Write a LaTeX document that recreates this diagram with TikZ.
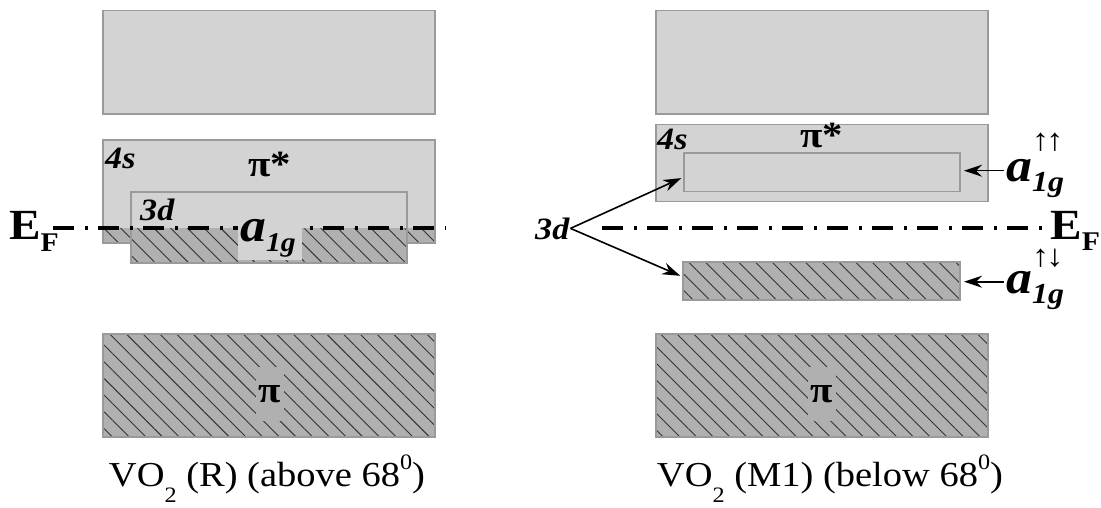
\documentclass[tikz,border=0pt]{standalone}
\usepackage{fontspec}
\setmainfont{Liberation Serif}[FakeStretch=1.1]
\usetikzlibrary{patterns.meta,arrows.meta}
\definecolor{lightfill}{HTML}{D3D3D3}
\definecolor{darkfill}{HTML}{B0B0B0}
\definecolor{edgegray}{HTML}{9A9A9A}
\tikzset{
  rect/.style={anchor=north west, inner sep=0pt, outer sep=0pt},
  lightbox/.style={fill=lightfill, draw=edgegray, line width=1.2pt},
  hatchfill/.style={preaction={fill=darkfill}, pattern={Lines[angle=-45,distance=11.8pt,line width=0.9pt]}, pattern color=black!80},
  hatchbox/.style={hatchfill, draw=edgegray, line width=1.2pt},
  border/.style={draw=edgegray, line width=1.2pt},
  fermi/.style={line width=3.3pt, dash pattern=on 21pt off 11pt on 3pt off 10pt},
  arr/.style={line width=1.6pt, -{Stealth[length=18pt,width=12pt]}},
  orb/.style={inner sep=0pt, font=\fontsize{31}{36}\selectfont\bfseries\itshape},
  alab/.style={inner sep=0pt, font=\fontsize{47}{50}\selectfont\bfseries\itshape},
  eflab/.style={inner sep=0pt, font=\fontsize{43}{46}\selectfont\bfseries},
  pilab/.style={inner sep=0pt, font=\fontsize{37}{40}\selectfont\bfseries},
  spin/.style={inner sep=0pt, font=\fontsize{31}{32}\selectfont},
  caption/.style={inner sep=0pt, font=\fontsize{35}{40}\selectfont},
}
\newcommand{\subtxt}[3]{\raisebox{#1}{\fontsize{#2}{#2}\selectfont #3}}
\begin{document}
\begin{tikzpicture}[x=1pt,y=-1pt]
\useasboundingbox (0,0) rectangle (1101,508);
% ---------------- left column: VO2 (R)
\node[rect, lightbox, minimum width=332pt, minimum height=103.3pt] (topL) at (103,10.7) {};
% middle band (4s, pi*)
\fill[lightfill] (103,140) rectangle (435,228);
\path[hatchfill] (103,228) rectangle (435,243);
\draw[border] (103,140) rectangle (435,243);
% 3d band
\fill[lightfill] (131,192) rectangle (407,228);
\path[hatchfill] (131,228) rectangle (407,263);
\draw[border] (131,192) rectangle (407,263);
% Fermi level
\coordinate (efLa) at (53,228);
\coordinate (efLb) at (446,228);
\draw[fermi] (efLa) -- (efLb);
\fill[lightfill] (238,225.5) rectangle (302,260);
% labels
\node[orb, anchor=base west] (s4L) at (105,169) {4s};
\node[pilab, anchor=base] (pisL) at (270,177) {π*};
\node[orb, anchor=base west] (d3L) at (140,220) {3d};
\node[alab, anchor=base west] (a1gL) at (240,241.7) {a\subtxt{-10pt}{27}{1g}};
\node[eflab, anchor=base west] (efLlab) at (9,240) {E\subtxt{-12pt}{27}{F}};
% bottom band (pi)
\node[rect, hatchbox, minimum width=332pt, minimum height=103pt] (botL) at (103,334) {};
\node[pilab, fill=darkfill, minimum width=28pt, minimum height=54pt] (piL) at (270,394) {π};
\node[caption, anchor=base] (capL) at (267,486) {VO\subtxt{-16pt}{22}{2} (R) (above 68\subtxt{17pt}{22}{0})};
% ---------------- right column: VO2 (M1)
\node[rect, lightbox, minimum width=332pt, minimum height=103.3pt] (topR) at (656,10.7) {};
\node[rect, lightbox, minimum width=332pt, minimum height=77pt] (midR) at (656,124.7) {};
\node[rect, lightbox, minimum width=276pt, minimum height=38.7pt] (innerR) at (684,153) {};
\node[rect, hatchbox, minimum width=277pt, minimum height=38pt] (lowR) at (683,262) {};
\coordinate (efRa) at (602,228);
\coordinate (efRb) at (1043,228);
\draw[fermi] (efRa) -- (efRb);
\node[orb, anchor=base west] (s4R) at (657,150) {4s};
\node[pilab, anchor=base] (pisR) at (822,148) {π*};
\node[orb, anchor=base west] (d3R) at (535,239) {3d};
\node[alab, anchor=base west] (a1gU) at (1006,181.7) {a\subtxt{-10pt}{29}{1g}};
\node[spin, anchor=base west] (spinU) at (1032,151) {↑\kern-3pt↑};
\node[alab, anchor=base west] (a1gD) at (1006,293) {a\subtxt{-10pt}{29}{1g}};
\node[spin, anchor=base west] (spinD) at (1032,266) {↑\kern-3pt↓};
\node[eflab, anchor=base west] (efRlab) at (1050,239) {E\subtxt{-12pt}{27}{F}};
\coordinate (tailU) at (1004,170.7);
\coordinate (tailD) at (1004,281.7);
\draw[arr, shorten >=4pt] (tailU) -- (innerR.east |- tailU);
\draw[arr, shorten >=4pt] (tailD) -- (lowR.east |- tailD);
\draw[arr, shorten >=3pt] ([xshift=1pt]d3R.east) -- ([yshift=-4.5pt]innerR.west);
\draw[arr, shorten >=3pt] ([xshift=1pt]d3R.east) -- ([yshift=4pt]lowR.west);
\node[rect, hatchbox, minimum width=332pt, minimum height=103pt] (botR) at (656,334) {};
\node[pilab, fill=darkfill, minimum width=28pt, minimum height=54pt] (piR) at (822,394) {π};
\node[caption, anchor=base] (capR) at (830,486) {VO\subtxt{-16pt}{22}{2} (M1) (below 68\subtxt{17pt}{22}{0})};
\end{tikzpicture}
\end{document}
